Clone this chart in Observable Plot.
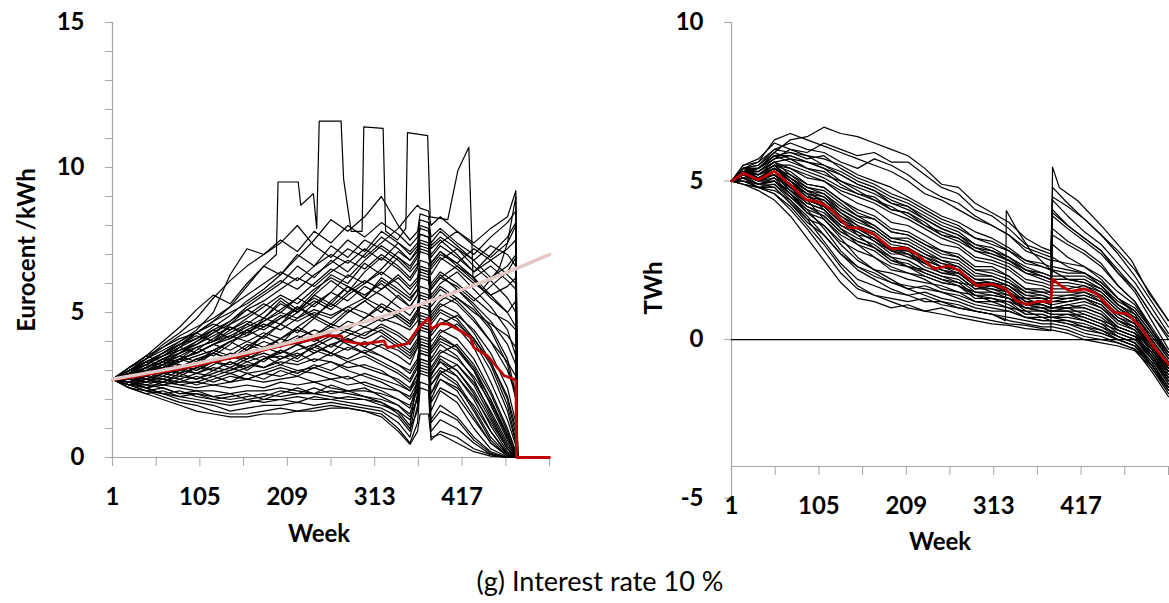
<!DOCTYPE html>
<html>
<head>
<meta charset="utf-8">
<script src="https://cdn.jsdelivr.net/npm/d3@7"></script>
<script src="https://cdn.jsdelivr.net/npm/@observablehq/plot@0.6"></script>
<style>
  html, body { margin: 0; padding: 0; background: #fff; }
  #wrap { position: relative; width: 1169px; height: 603px; overflow: hidden; background: #fff; font-family: Lato, "Open Sans", sans-serif; }
  .panel { position: absolute; top: 0; }
  .lbl { position: absolute; transform: translate(-50%, -50%); white-space: nowrap; color: #000; }
  .bold { font-weight: bold; font-size: 24px; }
  .rot { transform: translate(-50%, -50%) rotate(-90deg); }
  .cap { font-size: 27px; }
</style>
</head>
<body>
<div id="wrap">
  <div id="left" class="panel" style="left:0px"></div>
  <div id="right" class="panel" style="left:600px"></div>
  <div class="lbl bold" style="left:319px; top:532px">Week</div>
  <div class="lbl bold" style="left:940px; top:540px">Week</div>
  <div class="lbl bold rot" style="left:25px; top:250px">Eurocent /kWh</div>
  <div class="lbl bold rot" style="left:652px; top:288px">TWh</div>
  <div class="lbl cap" style="left:600px; top:580px">(g) Interest rate 10 %</div>
</div>
<script>
// ---------- Shared axis data ----------
const weekTicks = [1, 53, 105, 157, 209, 261, 313, 365, 417, 469, 521];
const weekLabels = [1, 105, 209, 313, 417];
const priceTicks = [0,1,2,3,4,5,6,7,8,9,10,11,12,13,14,15];
const priceLabels = [0, 5, 10, 15];
const storageTicks = [-5, 0, 5, 10];

// ---------- Left chart: price (Eurocent/kWh) ----------
const priceWeeks = [1,21,41,61,81,101,121,141,161,181,201,221,241,261,281,301,321,341,355,364,367,377,380,391,411,431,451,471,481,483];

const priceLow = [
  [2.7,2.4,2.2,2.0,1.8,1.6,1.5,1.4,1.4,1.5, 1.5,1.6,1.6,1.7,1.7,1.6,1.4,0.9,0.45,0.9, 1.5,1.5,0.7,0.8,0.5,0.2,0.05,0,0,0],
  [2.7,2.5,2.3,2.1,1.9,1.8,1.6,1.5,1.5,1.6, 1.7,1.6,1.7,1.8,1.7,1.6,1.5,1.0,0.5,1.2, 2.4,2.3,0.6,0.9,0.7,0.3,0.1,0,0,0],
  [2.7,2.4,2.3,2.2,2.0,1.9,1.8,1.6,1.7,1.8, 1.8,1.9,1.8,1.9,1.8,1.7,1.6,1.2,0.7,1.8, 3.4,3.3,0.9,1.3,1.0,0.5,0.1,0,0,0],
  [2.7,2.6,2.4,2.2,2.1,2.0,1.9,1.8,1.9,2.0, 2.0,2.1,2.0,2.0,1.9,1.8,1.7,1.4,0.9,2.2, 4.1,4.0,1.3,1.8,1.4,0.7,0.2,0,0,0],
  [2.7,2.5,2.5,2.4,2.2,2.2,2.1,2.0,2.1,2.2, 2.1,2.2,2.2,2.1,2.0,2.0,1.8,1.6,1.1,2.8, 4.7,4.6,1.6,2.3,1.9,1.0,0.3,0.02,0,0],
  [2.7,2.6,2.5,2.5,2.4,2.3,2.3,2.2,2.3,2.3, 2.4,2.3,2.2,2.3,2.2,2.1,2.0,1.8,1.4,2.0, 2.9,2.8,2.0,2.7,2.3,1.4,0.5,0.05,0,0],
  [2.7,2.7,2.6,2.6,2.5,2.4,2.5,2.4,2.5,2.4, 2.6,2.5,2.6,2.4,2.3,2.3,2.2,2.0,1.7,2.6, 3.9,3.8,2.5,3.0,2.6,1.7,0.7,0.1,0,0],
  [2.7,2.6,2.7,2.7,2.6,2.6,2.5,2.6,2.7,2.6, 2.7,2.8,2.6,2.7,2.5,2.6,2.4,2.3,2.0,2.4, 3.1,3.0,2.9,3.3,2.8,2.0,0.9,0.1,0,0],
  [2.7,2.4,2.2,2.3,2.1,2.2,2.0,2.1,2.2,2.0, 2.2,2.4,2.2,2.5,2.3,2.4,2.1,1.8,1.5,2.4, 3.7,3.6,2.2,2.9,2.5,1.6,0.6,0.05,0,0],
  [2.7,2.5,2.4,2.2,2.3,2.1,2.0,1.9,2.0,1.9, 2.0,1.9,2.1,2.0,2.1,2.0,1.9,1.5,1.0,1.6, 2.6,2.5,1.2,1.6,1.3,0.6,0.15,0,0,0]
];

const priceMid = [
  [2.7,2.8,2.7,2.9,3.0,2.9,3.1,3.0,3.2,3.1, 3.3,3.2,3.4,3.3,3.1,3.2,3.0,2.6,2.3,2.9, 3.6,3.5,2.8,3.4,3.0,2.2,1.1,0.2,0.02,0],
  [2.7,2.9,3.0,3.2,3.1,3.4,3.3,3.6,3.5,3.8, 3.6,3.9,3.7,3.5,3.8,3.6,3.3,3.0,2.7,3.2, 4.2,4.1,3.4,3.9,3.5,2.7,1.5,0.4,0.05,0],
  [2.7,2.6,2.8,2.7,3.0,3.2,3.0,2.9,3.1,3.4, 3.5,3.3,3.6,3.9,3.7,4.0,3.8,3.5,3.2,3.8, 4.5,4.4,3.7,4.2,3.8,3.0,1.8,0.6,0.1,0],
  [2.7,3.0,3.2,3.1,3.4,3.6,3.9,3.7,4.0,4.3, 4.1,4.4,4.2,4.5,4.3,4.1,4.4,4.0,3.7,4.1, 4.8,4.7,4.0,4.4,4.1,3.4,2.3,1.0,0.2,0],
  [2.7,2.5,2.6,2.9,2.8,3.1,3.3,3.2,3.5,3.3, 3.7,3.5,3.8,4.1,4.4,4.2,4.6,4.3,4.0,4.4, 5.0,4.9,4.3,4.8,4.5,3.8,2.6,1.3,0.4,0],
  [2.7,2.8,3.1,3.3,3.2,3.0,3.3,3.5,3.4,3.7, 3.9,4.2,4.0,4.3,4.7,4.5,4.8,4.6,4.4,4.7, 5.2,5.1,4.6,5.0,4.7,4.0,3.0,1.6,0.5,0],
  [2.7,2.6,2.4,2.6,2.8,2.7,2.9,3.1,2.9,3.0, 3.2,3.0,3.1,3.3,3.0,2.8,2.6,2.3,2.1,2.6, 3.3,3.2,2.5,2.9,3.2,2.5,1.4,0.3,0.02,0],
  [2.7,2.9,3.2,3.5,3.8,3.6,3.9,4.2,4.0,3.8, 4.1,3.9,3.6,3.9,4.1,3.8,3.5,3.2,2.9,3.3, 3.9,3.8,3.1,3.6,3.9,3.2,2.2,0.9,0.2,0],
  [2.7,2.7,2.9,3.0,3.3,3.5,3.7,4.0,4.3,4.6, 4.4,4.8,5.1,4.9,5.2,5.0,4.7,4.9,4.6,5.0, 5.5,5.4,4.9,5.3,5.0,4.3,3.3,2.0,0.8,0],
  [2.7,2.8,2.6,2.8,2.7,2.9,2.8,3.0,3.3,3.1, 3.4,3.6,3.3,3.6,3.4,3.7,3.5,3.2,3.0,3.4, 4.0,3.9,3.3,3.7,3.4,2.8,1.9,0.7,0.1,0],
  [2.7,2.5,2.7,2.5,2.6,2.8,2.6,2.8,2.7,2.9, 2.8,3.0,2.9,2.7,2.8,2.5,2.3,2.0,1.8,2.3, 3.0,2.9,2.2,2.7,2.4,1.8,0.9,0.15,0,0],
  [2.7,3.0,3.3,3.6,3.9,4.2,4.0,4.4,4.7,4.5, 4.9,4.7,5.0,4.8,5.2,5.5,5.2,4.8,4.5,4.9, 5.3,5.2,4.7,5.1,4.8,4.1,3.2,1.8,0.6,0],
  [2.7,2.8,3.0,2.9,3.1,3.4,3.6,3.4,3.7,4.0, 3.8,4.1,4.4,4.2,4.0,4.3,4.5,4.2,3.9,4.3, 4.9,4.8,4.2,4.6,4.9,4.4,3.6,2.4,1.2,0],
  [2.7,2.6,2.8,3.0,2.9,3.1,3.0,3.3,3.1,3.4, 3.6,3.9,4.1,3.8,4.2,4.5,4.3,3.9,3.6,4.0, 4.6,4.5,3.8,4.3,4.6,4.1,3.3,2.1,1.0,0],
  [2.7,2.5,2.3,2.4,2.2,2.3,2.1,2.2,2.0,2.1, 2.3,2.2,2.4,2.2,2.3,2.1,1.9,1.6,1.3,2.1, 3.2,3.1,1.9,2.4,2.1,1.3,0.5,0.05,0,0],
  [2.7,2.7,2.5,2.7,2.5,2.6,2.8,2.6,2.9,2.7, 3.0,2.8,3.1,2.9,2.7,2.9,2.7,2.5,2.3,2.7, 3.4,3.3,2.7,3.1,2.8,2.1,1.2,0.3,0.02,0],
  [2.7,2.9,2.7,3.0,3.2,3.0,3.3,3.1,3.4,3.6, 3.4,3.7,3.9,4.2,3.9,3.6,3.9,3.7,3.4,3.8, 4.4,4.3,3.6,4.0,3.7,3.0,2.0,0.8,0.1,0],
  [2.7,2.6,2.9,2.8,3.1,2.9,3.2,3.5,3.3,3.5, 3.2,3.5,3.8,3.6,3.3,3.5,3.2,2.9,2.6,3.1, 3.8,3.7,3.0,3.5,3.2,2.6,1.6,0.5,0.05,0],
  [2.7,2.5,2.7,2.6,2.9,2.7,3.0,3.3,3.0,3.4, 3.7,3.4,3.9,3.6,4.1,3.8,4.2,3.8,3.5,3.9, 4.5,4.4,3.7,4.1,3.8,3.1,2.0,0.7,0.1,0],
  [2.7,2.6,2.4,2.5,2.7,2.5,2.7,2.9,2.7,2.9, 3.1,2.9,3.2,3.0,3.3,3.1,2.9,2.7,2.4,2.9, 3.6,3.5,2.9,3.3,3.0,2.3,1.3,0.3,0.02,0],
  [2.7,2.6,2.9,3.1,2.9,3.3,3.6,3.4,3.8,4.2, 3.9,4.5,4.9,4.6,5.1,4.8,5.3,5.0,4.7,5.1, 5.7,5.6,5.0,5.4,5.8,5.2,4.5,3.4,2.2,0],
  [2.7,3.0,2.9,3.2,3.5,3.3,3.7,3.5,3.9,3.7, 4.1,4.5,4.2,4.6,4.4,4.8,5.2,4.9,4.6,5.0, 5.6,5.5,4.8,5.2,5.5,5.1,4.4,3.2,2.0,0]
];

const priceHigh = [
  [2.7,3.0,3.4,3.7,4.0,4.4,5.0,6.3,7.2,7.0, 7.4,8.0,7.3,6.9,7.5,7.1,7.8,7.4,7.0,7.3, 7.9,7.8,7.2,7.5,7.0,6.4,6.8,7.2,7.5,0],
  [2.7,3.1,3.5,3.8,4.2,4.5,4.8,5.2,5.6,6.0, 6.4,6.1,6.6,7.0,6.7,7.2,6.8,7.4,7.1,7.4, 8.0,7.9,7.3,7.6,7.2,6.8,7.3,7.0,6.6,0],
  [2.7,2.9,3.2,3.6,3.9,4.1,4.4,4.7,5.1,5.4, 5.8,6.2,5.9,6.4,6.8,6.5,7.0,6.6,6.2,6.6, 7.2,7.1,6.5,6.9,6.5,6.0,5.6,5.9,6.2,0],
  [2.7,2.8,3.1,3.4,3.7,4.0,4.3,4.6,4.9,5.3, 5.0,5.5,6.0,6.5,6.2,6.8,7.3,6.9,6.6,7.0, 7.5,7.4,6.7,7.1,6.6,6.1,5.5,5.0,5.4,0],
  [2.7,3.0,3.3,3.5,3.8,4.1,4.5,4.9,5.4,5.8, 6.3,6.9,7.5,8.2,7.8,8.3,9.0,8.0,7.5,7.8, 8.4,8.3,7.6,7.9,7.4,7.0,7.6,8.1,8.5,0],
  [2.7,2.9,3.0,3.3,3.5,3.8,4.0,4.3,4.6,4.4, 4.8,5.1,5.5,5.2,5.7,6.1,5.8,6.3,5.9,6.2, 6.8,6.7,6.0,6.4,6.0,5.5,5.0,4.7,4.4,0],
  [2.7,3.1,3.4,3.8,4.1,4.3,4.6,4.4,4.8,5.2, 5.6,5.3,5.8,6.2,5.9,5.6,6.0,5.5,5.2,5.6, 6.3,6.2,5.5,5.9,5.5,5.0,4.6,4.2,3.8,0],
  [2.7,2.8,3.0,3.2,3.4,3.6,3.9,4.1,4.4,4.7, 5.1,5.5,5.2,5.7,6.3,6.0,6.5,7.1,6.8,7.2, 7.7,7.6,7.0,7.4,7.8,7.3,6.9,7.4,8.0,0],
  [2.7,3.0,3.2,3.5,3.7,3.9,4.2,4.5,4.3,4.7, 5.0,4.8,5.3,5.7,5.4,5.9,5.6,5.2,4.9,5.3, 5.9,5.8,5.2,5.6,5.3,4.7,4.0,3.3,2.8,0],
  [2.7,2.9,3.3,3.6,4.0,4.3,4.7,5.0,5.3,5.7, 6.1,5.8,6.3,6.7,7.2,6.9,7.4,7.9,8.4,8.7, 8.6,8.5,8.0,8.3,7.8,7.4,7.9,8.3,9.2,0],
  [2.7,2.8,3.0,3.1,3.3,3.5,3.7,4.0,4.2,4.5, 4.8,5.2,4.9,5.3,5.0,5.4,5.8,6.2,5.8,6.1, 6.6,6.5,5.9,6.3,5.8,5.3,4.7,3.9,3.2,0],
  [2.7,3.0,3.4,3.9,4.3,4.8,5.5,6.1,6.6,7.0, 7.5,7.1,7.8,7.4,8.0,7.6,8.1,7.7,7.3,7.6, 8.2,8.1,7.4,7.8,7.3,6.8,6.2,6.6,7.0,0],
  [2.7,2.9,3.1,3.4,3.6,3.8,4.0,4.2,4.5,4.8, 4.6,5.0,5.4,5.1,5.6,6.0,6.4,6.0,5.6,6.0, 6.5,6.4,5.8,6.2,6.6,6.2,5.6,5.0,4.5,0],
  [2.7,3.1,3.5,4.0,4.5,5.1,5.6,5.3,6.0,6.6, 6.3,7.0,6.6,7.3,6.9,7.5,7.2,6.8,6.4,6.7, 7.3,7.2,6.6,7.0,6.7,6.2,6.6,6.1,5.8,0],
  [2.7,2.9,3.1,3.4,3.3,3.7,4.1,4.5,4.2,4.8, 5.3,5.0,5.6,6.1,5.7,6.4,6.9,6.5,6.1,6.5, 7.1,7.0,6.3,6.8,7.2,6.6,6.1,5.5,5.0,0],
  [2.7,2.8,3.1,3.0,3.4,3.8,3.5,3.9,4.4,4.1, 4.6,5.2,4.8,5.4,5.9,5.5,6.1,5.7,5.4,5.8, 6.4,6.3,5.6,6.0,6.4,5.8,5.2,4.4,3.5,0],
  [2.7,3.0,3.3,3.2,3.6,4.0,4.4,4.1,4.6,5.0, 5.5,5.1,5.7,6.3,6.0,6.7,6.3,6.9,6.5,6.9, 7.4,7.3,6.7,7.1,6.7,7.2,6.8,6.3,6.0,0],
  [2.7,2.9,2.8,3.1,3.4,3.2,3.6,4.0,3.7,4.2, 4.6,4.3,4.8,4.5,5.0,5.4,5.0,5.6,5.2,5.6, 6.2,6.1,5.4,5.8,5.4,4.8,4.0,3.0,2.2,0],
  [2.7,3.1,3.5,3.3,3.8,4.3,4.0,4.6,5.1,4.8, 5.4,5.0,5.6,5.3,5.9,5.5,6.2,5.8,5.5,5.8, 6.5,6.4,5.8,6.2,5.9,5.4,5.9,6.4,6.9,0],
  [2.7,2.8,3.0,3.3,3.6,3.9,4.3,4.7,5.2,5.6, 6.0,6.6,6.2,6.8,6.4,7.0,7.6,7.2,6.8,7.1, 7.7,7.6,6.9,7.3,6.9,6.4,7.0,7.6,8.1,0]
];

// outlier path with price plateaus
const spikeWeeks = [1,21,41,61,81,101,121,141,161,181,196,198,222,225,240,244,247,273,276,285,298,300,323,326,340,350,352,376,379,400,412,425,430,441,461,471,481,483];
const spikeValues = [2.7,2.9,3.3,3.5,3.9,4.3,4.7,5.2,5.9,6.6,7.0,9.5,9.5,8.7,9.1,7.9,11.6,11.6,9.6,7.8,7.8,11.4,11.35,7.8,7.5,7.9,11.2,11.1,8.3,8.2,9.9,10.7,6.2,5.8,6.5,7.4,9.0,0];

// mean price (red) and discounted start price (pink)
const priceMeanWeeks = [1,27,53,79,105,131,157,183,209,235,255,273,277,298,324,328,352,364,377,380,392,400,415,427,431,447,467,479,481,482,521];
const priceMeanValues = [2.68,2.78,2.92,3.05,3.2,3.37,3.52,3.72,3.9,4.05,4.2,4.19,4.02,3.91,4.02,3.79,3.93,4.43,4.81,4.43,4.62,4.6,4.37,4.14,3.79,3.51,2.82,2.70,2.65,0,0];
const priceTrendWeeks = [1,53,105,157,209,261,313,365,417,469,521];
const priceTrendValues = [2.70,2.97,3.27,3.59,3.95,4.35,4.78,5.26,5.79,6.37,7.00];

// ---------- Right chart: storage (TWh) ----------
const storageWeeks = [1,15,33,52,71,91,111,131,151,171,191,211,231,251,271,291,311,331,351,371,381,383,401,421,441,461,481,501,521];

const storageLow = [
  [5.0,4.9,4.7,4.4,3.9,3.2,2.5,1.8,1.3,1.2, 1.0,1.1,0.9,1.0,0.8,0.7,0.6,0.5,0.45,0.35, 0.3,0.3,0.2,0.0,-0.1,-0.2,-0.35,-0.9,-1.7],
  [5.0,5.0,4.8,4.6,4.1,3.5,2.8,2.1,1.6,1.4, 1.3,1.2,1.3,1.1,1.0,0.9,0.8,0.7,0.6,0.5, 0.5,0.5,0.4,0.2,0.1,-0.1,-0.3,-0.8,-1.6],
  [5.0,5.1,4.9,4.8,4.3,3.8,3.1,2.4,1.9,1.7, 1.5,1.4,1.5,1.3,1.2,1.0,0.9,0.9,0.7,0.6, 0.6,0.6,0.5,0.3,0.2,0.0,-0.2,-0.7,-1.5],
  [5.0,5.0,4.9,4.9,4.5,4.1,3.5,2.8,2.3,2.0, 1.8,1.6,1.7,1.5,1.4,1.2,1.1,1.0,0.9,0.7, 0.7,0.7,0.6,0.4,0.3,0.1,-0.1,-0.6,-1.4],
  [5.0,5.2,5.0,5.0,4.7,4.4,3.8,3.2,2.6,2.2, 2.1,1.9,1.8,1.7,1.5,1.4,1.2,1.2,1.0,0.9, 0.8,0.8,0.8,0.6,0.4,0.2,0.0,-0.5,-1.3],
  [5.0,5.1,5.1,5.2,4.9,4.6,4.1,3.5,3.0,2.6, 2.3,2.1,2.0,1.8,1.7,1.5,1.4,1.3,1.1,1.0, 0.9,0.9,0.9,0.7,0.5,0.3,0.1,-0.4,-1.2],
  [5.0,4.9,4.8,4.7,4.4,3.9,3.3,2.7,2.2,1.9, 1.6,1.4,1.2,1.2,1.1,0.9,0.8,0.6,0.5,0.4, 0.4,0.4,0.3,0.1,0.0,-0.1,-0.3,-1.0,-1.8],
  [5.0,5.2,5.1,5.3,5.0,4.7,4.3,3.8,3.3,2.9, 2.6,2.3,2.2,2.0,1.8,1.7,1.5,1.4,1.3,1.1, 1.0,1.0,1.0,0.8,0.6,0.4,0.2,-0.3,-1.1],
  [5.0,5.1,4.9,5.0,4.6,4.2,3.9,3.4,3.1,2.9, 2.5,2.3,2.1,1.9,1.7,1.4,1.3,1.1,0.8,0.8, 0.7,0.7,0.7,0.6,0.4,0.1,-0.1,-0.8,-1.5],
  [5.0,5.0,4.8,4.8,4.3,3.7,3.3,2.7,2.3,2.1, 1.8,1.7,1.6,1.5,1.3,1.1,1.0,0.9,0.7,0.6, 0.6,0.6,0.5,0.4,0.2,0.0,-0.2,-0.9,-1.6]
];

const storageMid = [
  [5.0,5.2,5.0,5.2,4.7,4.2,4.0,3.5,3.2,3.0, 2.6,2.5,2.2,2.0,1.9,1.5,1.5,1.3,1.0,0.9, 0.9,0.9,1.0,1.0,0.8,0.4,0.2,-0.5,-1.2],
  [5.0,5.3,5.1,5.4,5.0,4.6,4.5,4.0,3.7,3.5, 3.1,3.0,2.7,2.4,2.3,1.9,1.9,1.7,1.3,1.3, 1.2,1.2,1.3,1.3,1.1,0.6,0.4,-0.3,-1.0],
  [5.0,5.2,5.1,5.2,4.8,4.3,4.1,3.6,3.4,3.1, 2.8,2.6,2.4,2.1,2.0,1.6,1.6,1.4,1.0,1.0, 0.9,0.9,0.9,0.9,0.7,0.3,0.1,-0.6,-1.3],
  [5.0,5.3,5.2,5.5,5.1,4.8,4.6,4.2,3.9,3.8, 3.4,3.3,3.0,2.7,2.6,2.2,2.1,1.9,1.5,1.5, 1.4,1.4,1.4,1.5,1.2,0.8,0.5,-0.2,-0.9],
  [5.0,5.2,4.9,5.0,4.5,4.0,3.8,3.3,3.0,2.8, 2.4,2.3,2.0,1.8,1.7,1.3,1.3,1.2,0.8,0.8, 0.7,0.7,0.8,0.8,0.6,0.2,0.0,-0.6,-1.4],
  [5.0,5.3,5.2,5.4,5.0,4.5,4.4,3.9,3.6,3.3, 2.9,2.8,2.6,2.3,2.2,1.8,1.8,1.6,1.2,1.2, 1.1,3.0,2.6,2.3,1.9,1.3,0.8,0.0,-0.7],
  [5.0,5.2,5.0,5.3,4.9,4.4,4.2,3.7,3.4,3.1, 2.7,2.7,2.3,2.1,2.1,1.7,1.7,1.5,1.1,1.1, 1.0,1.0,1.1,1.2,1.0,0.5,0.3,-0.4,-1.1],
  [5.0,5.4,5.3,5.6,5.2,4.9,4.8,4.4,4.1,3.9, 3.5,3.4,3.1,2.8,2.7,2.3,2.3,2.0,1.6,1.6, 1.5,4.0,3.6,3.2,2.8,2.1,1.5,0.6,-0.3],
  [5.0,5.1,4.9,5.1,4.6,4.1,3.9,3.4,3.1,2.9, 2.5,2.4,2.1,1.9,1.8,1.4,1.4,1.3,0.9,0.9, 0.8,0.8,0.8,0.7,0.5,0.1,-0.1,-0.7,-1.5],
  [5.0,5.3,5.1,5.3,4.9,4.5,4.3,3.8,3.5,3.3, 2.9,2.9,2.5,2.3,2.2,1.8,1.8,1.6,1.2,1.2, 1.1,1.1,1.2,1.3,1.0,0.6,0.3,-0.3,-1.0],
  [5.0,5.2,5.0,5.2,4.7,4.3,4.1,3.6,3.3,3.2, 2.8,2.8,2.4,2.2,2.1,1.7,1.6,1.5,1.1,1.0, 1.0,2.6,2.3,2.1,1.7,1.1,0.7,-0.1,-0.8],
  [5.0,5.4,5.2,5.5,5.1,4.7,4.6,4.1,3.8,3.6, 3.2,3.1,2.8,2.5,2.4,2.0,2.0,1.8,1.4,1.4, 1.3,1.3,1.3,1.4,1.2,0.7,0.5,-0.2,-1.0],
  [5.0,5.1,4.8,4.9,4.4,3.8,3.6,3.1,2.8,2.6, 2.2,2.1,1.9,1.6,1.5,1.2,1.2,1.0,0.7,0.7, 0.6,0.6,0.6,0.5,0.3,0.0,-0.2,-0.8,-1.6],
  [5.0,5.3,5.2,5.4,5.1,4.7,4.5,4.1,3.8,3.5, 3.1,3.0,2.7,2.5,2.3,1.9,1.9,1.7,1.4,1.3, 1.3,3.5,3.1,2.8,2.4,1.7,1.2,0.3,-0.5],
  [5.0,5.2,5.1,5.3,4.8,4.4,4.2,3.7,3.5,3.2, 2.8,2.7,2.4,2.2,2.0,1.6,1.7,1.5,1.1,1.1, 1.0,1.0,1.0,1.1,0.9,0.4,0.2,-0.5,-1.2],
  [5.0,5.3,5.2,5.5,5.0,4.6,4.4,4.0,3.6,3.4, 3.0,2.9,2.6,2.4,2.3,1.9,1.8,1.7,1.3,1.3, 1.2,1.2,1.2,1.3,1.1,0.6,0.4,-0.2,-0.9],
  [5.0,5.3,5.3,5.6,5.4,5.1,5.0,4.6,4.3,4.1, 3.7,3.6,3.3,3.0,2.9,2.5,2.4,2.2,1.8,1.7, 1.6,1.6,1.6,1.7,1.4,0.9,0.6,-0.1,-0.8],
  [5.0,5.3,5.2,5.5,5.3,4.9,4.8,4.4,4.0,3.8, 3.4,3.3,3.0,2.8,2.6,2.2,2.2,2.0,1.6,1.5, 1.5,1.5,1.5,1.5,1.3,0.8,0.5,-0.2,-0.9],
  [5.0,5.2,5.1,5.4,5.2,4.8,4.7,4.3,3.9,3.6, 3.2,3.2,2.9,2.6,2.5,2.1,2.0,1.8,1.5,1.4, 1.3,1.3,1.4,1.4,1.2,0.7,0.4,-0.3,-1.0],
  [5.0,5.2,5.0,5.1,4.8,4.4,4.2,3.9,3.5,3.2, 2.9,2.7,2.5,2.3,2.1,1.8,1.7,1.5,1.2,1.1, 1.0,1.0,1.1,1.0,0.8,0.3,0.1,-0.5,-1.3]
];

const storageHigh = [
  [5.0,5.3,5.4,5.9,6.3,6.4,6.7,6.5,6.4,6.2, 6.0,5.8,5.4,4.9,4.8,4.3,4.0,3.7,3.2,2.9, 2.8,4.5,4.2,3.8,3.3,2.8,2.2,1.4,0.6],
  [5.0,5.4,5.6,6.3,6.5,6.3,6.1,5.9,5.7,5.5, 5.3,5.0,4.6,4.4,4.1,3.8,3.6,3.3,2.9,2.7, 2.6,4.8,4.3,3.8,3.3,2.7,2.0,1.2,0.4],
  [5.0,5.3,5.3,5.7,6.0,5.8,5.5,5.3,5.0,4.8, 4.5,4.3,4.0,3.7,3.5,3.2,3.0,2.8,2.5,2.3, 2.2,4.4,3.9,3.4,3.0,2.4,1.8,1.0,0.2],
  [5.0,5.2,5.2,5.6,5.7,5.4,5.2,5.0,4.7,4.4, 4.2,3.9,3.6,3.4,3.2,2.9,2.8,2.5,2.2,2.0, 1.9,1.9,1.9,1.8,1.6,1.1,0.8,0.0,-0.7],
  [5.0,5.4,5.5,6.0,6.2,6.0,5.9,5.6,5.4,5.7, 5.5,5.2,4.8,4.5,4.3,3.9,3.6,3.3,2.8,2.6, 2.5,2.5,2.4,2.3,2.0,1.5,1.1,0.3,-0.5],
  [5.0,5.3,5.4,5.8,5.8,5.6,5.4,5.2,4.9,4.7, 4.4,4.2,3.8,3.5,3.3,3.0,2.8,2.6,2.3,2.1, 2.0,4.1,3.6,3.2,2.8,2.2,1.6,0.8,0.0],
  [5.0,5.3,5.2,5.5,5.4,5.2,5.0,4.7,4.5,4.3, 4.0,3.8,3.5,3.2,3.0,2.6,2.5,2.3,1.9,1.8, 1.7,1.7,1.7,1.6,1.4,0.9,0.6,-0.1,-0.8],
  [5.0,5.5,5.7,6.2,6.0,5.9,6.2,6.0,5.8,5.9, 5.6,5.6,5.2,4.8,4.6,4.1,3.9,3.5,3.0,2.8, 2.7,3.9,3.5,3.1,2.7,2.1,1.6,0.8,0.1],
  [5.0,5.2,5.2,5.5,5.5,5.3,5.1,4.8,4.6,4.4, 4.1,4.0,3.7,3.3,3.1,2.8,2.6,2.4,2.1,1.9, 1.8,1.8,1.8,1.7,1.5,1.0,0.7,-0.1,-0.8],
  [5.0,5.4,5.4,5.8,5.9,5.8,5.7,5.5,5.2,5.0, 4.8,4.5,4.2,3.9,3.7,3.4,3.2,2.9,2.5,2.4, 2.3,2.3,2.2,2.1,1.8,1.3,0.9,0.2,-0.6],
  [5.0,5.4,5.4,5.8,5.6,5.4,5.3,4.9,4.6,4.5, 4.1,4.0,3.6,3.3,3.2,2.8,2.7,2.5,2.1,2.0, 1.9,1.9,1.9,1.9,1.6,1.1,0.8,0.1,-0.6],
  [5.0,5.4,5.5,5.9,5.7,5.6,5.5,5.2,4.9,4.7, 4.3,4.2,3.9,3.6,3.4,3.0,2.9,2.6,2.2,2.1, 2.0,2.0,2.0,2.0,1.7,1.2,0.9,0.2,-0.5],
  [5.0,5.5,5.6,6.0,5.9,5.7,5.8,5.4,5.1,4.9, 4.6,4.4,4.1,3.8,3.6,3.2,3.1,2.8,2.4,2.3, 2.2,2.2,2.1,2.1,1.8,1.3,1.0,0.3,-0.4],
  [5.0,5.3,5.4,5.7,5.8,5.6,5.4,5.0,4.8,4.6, 4.3,4.1,3.8,3.5,3.3,2.9,2.7,2.5,2.2,2.0, 1.9,3.3,3.0,2.7,2.3,1.7,1.2,0.4,-0.4]
];

// paths with a sudden inflow jump
const jumpAWeeks = [1,15,33,52,71,91,111,131,151,171,191,211,231,251,271,291,311,327,328,340,357,381,401,421,441,461,481,501,521];
const jumpAValues = [5.0,5.1,4.9,5.0,4.6,4.0,3.6,3.0,2.5,2.2,1.9,1.6,1.4,1.2,1.0,0.9,0.8,0.6,4.07,3.5,2.8,2.2,1.9,1.8,1.5,1.0,0.6,-0.1,-0.9];
const jumpBWeeks = [1,15,33,52,71,91,111,131,151,171,191,211,231,251,271,291,311,331,351,371,381,383,391,413,443,477,498,521];
const jumpBValues = [5.0,4.9,4.8,4.6,4.2,3.6,3.0,2.3,1.7,1.4,1.2,1.0,0.9,0.8,0.7,0.6,0.5,0.45,0.35,0.3,0.28,5.44,4.8,4.38,3.54,2.5,1.45,0.6];

// mean storage (red)
const storageMeanWeeks = [1,15,33,52,72,89,106,119,140,153,170,191,208,221,242,259,272,293,310,327,340,353,365,381,383,393,405,421,436,456,472,488,504,521];
const storageMeanValues = [5.0,5.25,5.04,5.31,4.86,4.42,4.33,4.12,3.54,3.52,3.33,2.86,2.89,2.70,2.23,2.33,2.18,1.70,1.76,1.60,1.23,1.10,1.21,1.18,1.91,1.70,1.52,1.60,1.44,0.86,0.81,0.39,-0.24,-0.77];

// ---------- helpers ----------
function rowsFrom(weeks, paths, prefix) {
  const rows = [];
  paths.forEach((p, k) => p.forEach((v, i) => {
    if (weeks[i] !== undefined) rows.push({w: weeks[i], v, id: prefix + k});
  }));
  return rows;
}
const one = (weeks, values, id) => values.map((v, i) => ({w: weeks[i], v, id}));

const axisGray = "#a6a6a6";
const styleCommon = {fontFamily: "Lato, 'Open Sans', sans-serif", fontSize: "24px", fontWeight: "bold", color: "#000", background: "transparent", overflow: "visible"};

// ---------- left plot ----------
const priceRows = [
  ...rowsFrom(priceWeeks, priceLow, "L"),
  ...rowsFrom(priceWeeks, priceMid, "M"),
  ...rowsFrom(priceWeeks, priceHigh, "H"),
  ...one(spikeWeeks, spikeValues, "S")
];

const left = Plot.plot({
  width: 600, height: 560,
  marginLeft: 112, marginRight: 51, marginTop: 22, marginBottom: 103,
  x: {domain: [1, 521]},
  y: {domain: [0, 15]},
  style: styleCommon,
  marks: [
    Plot.ruleX([1], {stroke: axisGray, strokeWidth: 1.2}),
    Plot.ruleY([0], {stroke: axisGray, strokeWidth: 1.2}),
    Plot.axisY({ticks: priceTicks, tickSize: 7, tickPadding: 21, stroke: axisGray, label: null,
      tickFormat: d => priceLabels.includes(d) ? String(d) : ""}),
    Plot.axisX({ticks: weekTicks, tickSize: 9, tickPadding: 21, stroke: axisGray, label: null,
      tickFormat: d => weekLabels.includes(d) ? String(d) : ""}),
    Plot.line(priceRows, {x: "w", y: "v", z: "id", stroke: "#000", strokeWidth: 1.2}),
    Plot.line(one(priceMeanWeeks, priceMeanValues, "mean"), {x: "w", y: "v", stroke: "#c00000", strokeWidth: 2.8}),
    Plot.line(one(priceTrendWeeks, priceTrendValues, "trend"), {x: "w", y: "v", stroke: "#e3c8c8", strokeWidth: 3.5, curve: "natural"})
  ]
});
document.getElementById("left").appendChild(left);

// ---------- right plot ----------
const storageRows = [
  ...rowsFrom(storageWeeks, storageLow, "L"),
  ...rowsFrom(storageWeeks, storageMid, "M"),
  ...rowsFrom(storageWeeks, storageHigh, "H"),
  ...one(jumpAWeeks, jumpAValues, "JA"),
  ...one(jumpBWeeks, jumpBValues, "JB")
];

const right = Plot.plot({
  width: 569, height: 560,
  marginLeft: 131, marginRight: 1, marginTop: 22, marginBottom: 94,
  x: {domain: [1, 521]},
  y: {domain: [-4, 10]},
  style: styleCommon,
  marks: [
    Plot.ruleX([1], {y1: -5, y2: 10, stroke: axisGray, strokeWidth: 1.2}),
    Plot.ruleY([-4], {stroke: axisGray, strokeWidth: 1.2}),
    Plot.ruleY([0], {stroke: "#000", strokeWidth: 1.2}),
    Plot.axisY({ticks: storageTicks, tickSize: 7, tickPadding: 21, stroke: axisGray, label: null,
      tickFormat: d => String(d)}),
    Plot.axisX({ticks: weekTicks, tickSize: 9, tickPadding: 21, stroke: axisGray, label: null,
      tickFormat: d => weekLabels.includes(d) ? String(d) : ""}),
    Plot.line(storageRows, {x: "w", y: "v", z: "id", stroke: "#000", strokeWidth: 1.2}),
    Plot.line(one(storageMeanWeeks, storageMeanValues, "mean"), {x: "w", y: "v", stroke: "#c00000", strokeWidth: 2.8})
  ]
});
document.getElementById("right").appendChild(right);
</script>
</body>
</html>
